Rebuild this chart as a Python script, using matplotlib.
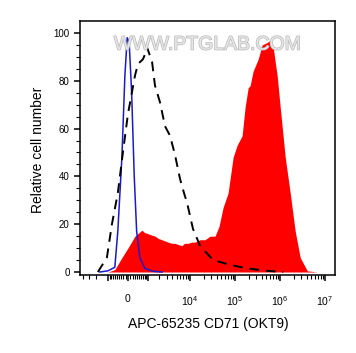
import numpy as np
import matplotlib
matplotlib.use("Agg")
import matplotlib.pyplot as plt
import matplotlib.patheffects as pe
from matplotlib.scale import FuncScale

plt.rcParams['font.family'] = ['Liberation Sans', 'DejaVu Sans']
plt.rcParams['mathtext.default'] = 'regular'

# linear width of the biexponential-like display
W = 833.0

# blue: control
blue_x = [-1650, -1000, -600, -450, -260, -130, -30, 55, 160, 275, 385, 545, 820, 1390, 2300]
blue_y = [0, 0.5, 2, 17, 48, 82, 98, 96, 75, 40, 17, 6, 1.5, 0.3, 0]

# black dashed
dash_x = [-1850, -1080, -760, -450, -215, 0, 170, 305, 445, 705, 885, 950, 1310, 1560,
          2070, 2720, 3550, 4600, 5960, 7340, 8560, 11650, 16700, 32600, 77900,
          186000, 520000, 1180000]
dash_y = [0, 6, 20, 33, 50, 66, 75, 82, 87, 89, 92, 94, 88, 78,
          71, 61, 57, 49, 39, 33, 29, 18, 11, 5, 3,
          1.5, 0.5, 0]

# red: stained sample
red_x = [-1010, -600, -260, 0, 305, 650, 800, 1010, 1250, 1560, 1900, 2300, 2700, 3180,
         3900, 4600, 5400, 6600, 7500, 9000, 11000, 12900, 16700, 21600, 27900, 36000,
         44000, 54400, 70200, 90900, 111500, 144000, 168000, 196000, 217000, 253000,
         327000, 402000, 519000, 606000, 706000, 867000, 1011000, 1307000, 1689000,
         2182000, 2821000, 4040000, 6740000]
red_y = [0, 1, 6, 10, 15, 17.5, 16.5, 16, 15.5, 15, 14, 13.5, 13, 12.5,
         12, 12, 11.5, 11, 12, 12, 12.5, 12.5, 13.5, 13.5, 15, 15,
         19, 27, 33, 48, 53, 57, 69, 77, 78, 84,
         89, 95, 96, 97, 94, 82, 69, 48, 33,
         17, 6, 0.5, 0]

xticks_major = [-1000, 0, 1000, 1e4, 1e5, 1e6, 1e7]
xtick_labels = ['', '0', '', '$10^4$', '$10^5$', '$10^6$', '$10^7$']


def fwd(x):
    return np.arcsinh(np.asarray(x, dtype=float) / W)


def inv(t):
    return W * np.sinh(t)


fig = plt.figure(figsize=(3.56, 3.53), dpi=100)
ax = fig.add_axes([80 / 356, 1 - 275 / 353, 255 / 356, 254 / 353])
ax.set_xscale(FuncScale(ax.xaxis, (fwd, inv)))

ax.fill_between(red_x, red_y, 0, color='#ff0000', linewidth=0, zorder=1)
ax.plot(dash_x, dash_y, color='black', linestyle=(0, (5, 3.5)), linewidth=1.4, zorder=3)
ax.plot(blue_x, blue_y, color='#1a1acc', linewidth=1.1, zorder=2)

ax.set_xlim(-4800, 1.67e7)
ax.set_ylim(-1.25, 105)

minors = []
minors += [-4000, -3000, -2000]
minors += list(range(-900, 0, 100)) + list(range(100, 1000, 100))
for dec in [1e3, 1e4, 1e5, 1e6]:
    minors += [k * dec for k in range(2, 10)]
ax.set_xticks(xticks_major)
ax.set_xticklabels(xtick_labels)
ax.set_xticks(minors, minor=True)

ax.set_yticks([0, 20, 40, 60, 80, 100])
ax.set_yticks(np.arange(0, 105, 5), minor=True)

ax.tick_params(axis='both', which='major', direction='out', length=4.5, width=1.1, labelsize=7)
ax.tick_params(axis='both', which='minor', direction='out', length=3, width=0.8)
ax.tick_params(axis='x', which='major', pad=9, labelsize=7.5)
ax.tick_params(axis='y', which='major', pad=3)

for s in ax.spines.values():
    s.set_linewidth(1.1)

# watermark
ax.text(0.5, 0.905, 'WWW.PTGLAB.COM', transform=ax.transAxes, ha='center', va='center',
        fontsize=14, color='#e6e6e6', zorder=4,
        path_effects=[pe.withStroke(linewidth=1.0, foreground='#b8b8b8')])

fig.text(38 / 356, 1 - 150 / 353, 'Relative cell number', rotation=90, ha='center',
         va='center', fontsize=10)
fig.text(208 / 356, 1 - 324 / 353, 'APC-65235 CD71 (OKT9)', ha='center', va='center',
         fontsize=10)

fig.savefig('out.png', dpi=100)
